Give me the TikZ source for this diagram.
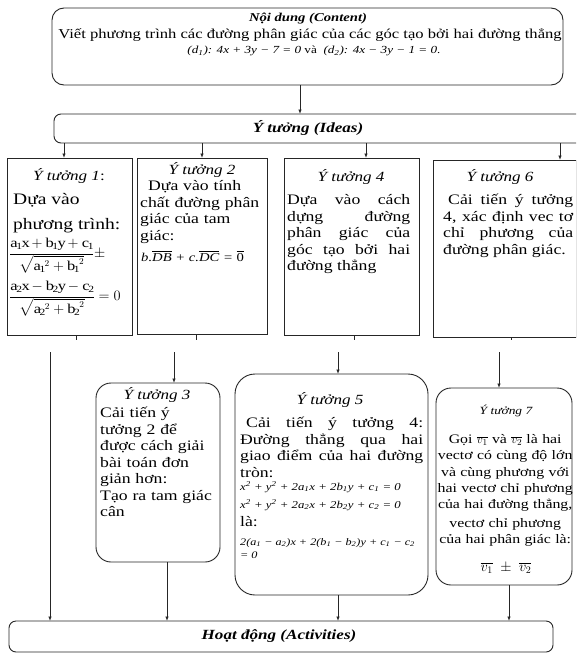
\documentclass[tikz,border=0pt]{standalone}
\usepackage{amsmath}
\usepackage{fontspec}
\setmainfont{Liberation Serif}[FakeStretch=1.22]
\usetikzlibrary{arrows.meta,calc}
\begin{document}
\begin{tikzpicture}[x=1pt,y=-1pt,
  box/.style={draw=black!85, line width=0.9pt, inner sep=0pt, outer sep=0pt, anchor=north west, fill=white},
  rbox/.style={box, rounded corners=#1},
  conn/.style={draw=black!85, line width=0.8pt, -{Latex[length=4.5pt,width=3.5pt]}},
  plain/.style={draw=black!85, line width=0.8pt},
  ttl/.style={inner sep=0pt, font=\fontsize{14}{16}\selectfont\itshape},
  head/.style={inner sep=0pt, font=\fontsize{14}{16}\selectfont\bfseries\itshape},
  para/.style={inner sep=0pt, anchor=north west, text width=#1, font=\fontsize{14.5}{16.5}\selectfont},
  oneline/.style={inner sep=0pt, anchor=west},
]
\clip (0,0) rectangle (576,653);
\fill[white] (0,0) rectangle (576,653);

% ---------- boxes ----------
\node[rbox=12pt, minimum width=511pt, minimum height=77pt] (content) at (52,8) {};
\node[rbox=7pt, minimum width=560pt, minimum height=29pt] (ideas) at (54,114) {};
\node[box, minimum width=125pt, minimum height=177pt] (i1) at (7,158) {};
\node[box, minimum width=130pt, minimum height=176pt] (i2) at (137,158) {};
\node[box, minimum width=135pt, minimum height=177pt] (i4) at (284,158) {};
\node[box, minimum width=143pt, minimum height=177pt] (i6) at (433,160) {};
\node[rbox=15pt, minimum width=124pt, minimum height=179pt] (i3) at (96,383) {};
\node[rbox=20pt, minimum width=193pt, minimum height=221pt] (i5) at (235,374) {};
\node[rbox=15pt, minimum width=136pt, minimum height=197pt] (i7) at (436,388) {};
\node[rbox=7pt, minimum width=544pt, minimum height=31pt] (act) at (9,621) {};

% ---------- header texts ----------
\node[inner sep=0pt, font=\fontsize{12}{13}\selectfont\bfseries\itshape] (ct1) at (308,19) {Nội dung (Content)};
\node[inner sep=0pt, font=\fontsize{13.6}{15}\selectfont] (ct2) at (310,35) {Viết phương trình các đường phân giác của các góc tạo bởi hai đường thẳng};
\node[inner sep=0pt, font=\fontsize{10.8}{13}\selectfont\itshape] (ct3) at (314,51) {(\textit{d}\textsubscript{1}): 4\textit{x} + 3\textit{y} − 7 = 0 \textup{và} \ (\textit{d}\textsubscript{2}): 4\textit{x} − 3\textit{y} − 1 = 0.};
\node[head] (ideastxt) at (308,128) {Ý tưởng (Ideas)};
\node[head] (acttxt) at (279,636) {Hoạt động (Activities)};

% ---------- idea 1 ----------
\node[ttl] (t1) at (69,176) {Ý tưởng 1\upshape:};
\node[oneline, font=\fontsize{16}{18}\selectfont] (i1a) at (13,200) {Dựa vào};
\node[oneline, font=\fontsize{16}{18}\selectfont] (i1b) at (13,226) {phương trình:};
\node[oneline, font=\fontsize{13.5}{15}\selectfont] (f1) at (9,256) {$\dfrac{\mathrm{a_1x+b_1y+c_1}}{\sqrt{\mathrm{a_1}^{2}+\mathrm{b_1}^{2}}}\pm$};
\node[oneline, font=\fontsize{13.5}{15}\selectfont] (f2) at (9,299) {$\dfrac{\mathrm{a_2x - b_2y - c_2}}{\sqrt{\mathrm{a_2}^{2}+\mathrm{b_2}^{2}}}=0$};

% ---------- idea 2 ----------
\node[ttl] (t2) at (202,170) {Ý tưởng 2};
\node[para=124pt, align=left] (p2) at (140,179) {\strut\hspace*{8pt}Dựa vào tính\\chất đường phân\\giác của tam\\giác:};
\node[oneline, font=\fontsize{12}{14}\selectfont\itshape] (f3) at (141,256) {b.$\overline{\hbox{DB}}$ + c.$\overline{\hbox{DC}}$ = $\overline{\hbox{\upshape 0}}$};

% ---------- idea 4 ----------
\node[ttl] (t4) at (351,177) {Ý tưởng 4};
\node[para=123pt, align=justify] (p4) at (287,193) {\strut Dựa vào cách\linebreak dựng đường\linebreak phân giác của\linebreak góc tạo bởi hai\linebreak đường thẳng};

% ---------- idea 6 ----------
\node[ttl] (t6) at (500,177) {Ý tưởng 6};
\node[para=130pt, align=justify] (p6) at (443,193) {\strut\hspace*{5pt}Cải tiến ý tưởng\linebreak 4, xác định vec tơ\linebreak chỉ phương của\linebreak đường phân giác.};

% ---------- idea 3 ----------
\node[ttl] (t3) at (157,395) {Ý tưởng 3};
\node[para=120pt, align=left] (p3) at (100,406) {\strut Cải tiến ý\\tưởng 2 để\\được cách giải\\bài toán đơn\\giản hơn:\\Tạo ra tam giác\\cân};

% ---------- idea 5 ----------
\node[ttl] (t5) at (330,400) {Ý tưởng 5};
\node[para=183pt, align=justify] (p5) at (240,416) {\strut\hspace*{6pt}Cải tiến ý tưởng 4:\linebreak Đường thẳng qua hai\linebreak giao điểm của hai đường\linebreak tròn:};
\node[oneline, font=\fontsize{10.5}{12}\selectfont\itshape] (f4) at (240,487) {x\textsuperscript{2} + y\textsuperscript{2} + 2a\textsubscript{1}x + 2b\textsubscript{1}y + c\textsubscript{1} = 0};
\node[oneline, font=\fontsize{10.5}{12}\selectfont\itshape] (f5) at (240,505) {x\textsuperscript{2} + y\textsuperscript{2} + 2a\textsubscript{2}x + 2b\textsubscript{2}y + c\textsubscript{2} = 0};
\node[oneline, font=\fontsize{14.5}{16}\selectfont] (la) at (240,522) {là:};
\node[oneline, font=\fontsize{10}{12}\selectfont\itshape] (f6) at (240,543) {2(a\textsubscript{1} − a\textsubscript{2})x + 2(b\textsubscript{1} − b\textsubscript{2})y + c\textsubscript{1} − c\textsubscript{2}};
\node[oneline, font=\fontsize{10}{12}\selectfont\itshape] (f7) at (240,555) {= 0};

% ---------- idea 7 ----------
\node[inner sep=0pt, font=\fontsize{11}{13}\selectfont\itshape] (t7) at (506,411) {Ý tưởng 7};
\node[para=136pt, align=center, font=\fontsize{13}{16.3}\selectfont] (p7a) at (437,432) {\strut Gọi $\overline{v_1}$ và $\overline{v_2}$ là hai\\vectơ có cùng độ lớn\\và cùng phương với\\hai vectơ chỉ phương\\của hai đường thẳng,};
\node[para=136pt, align=center, font=\fontsize{13}{16.3}\selectfont] (p7b) at (437,515.5) {\strut vectơ chỉ phương\\của hai phân giác là:};
\node[inner sep=0pt, font=\fontsize{14}{16}\selectfont] (f8) at (506,568) {$\overline{v_1}\ \pm\ \overline{v_2}$};

% ---------- connector x positions ----------
\coordinate (xa) at (300,0);
\coordinate (x1) at (64,0);
\coordinate (x2) at (202,0);
\coordinate (x4) at (366,0);
\coordinate (x6) at (560,0);
\coordinate (k1) at (76,340);
\coordinate (k2) at (196,340);
\coordinate (k4) at (354,340);
\coordinate (k6) at (511,340);
\coordinate (s1) at (50,352);
\coordinate (s2) at (174,352);
\coordinate (s3) at (338,352);
\coordinate (s4) at (499,352);
\coordinate (b3) at (167,0);
\coordinate (b5) at (338,0);
\coordinate (b7) at (509,0);

% ---------- connectors ----------
\draw[conn] (content.south -| xa) -- (ideas.north -| xa);
\draw[conn] (ideas.south -| x1) -- (i1.north -| x1);
\draw[conn] (ideas.south -| x2) -- (i2.north -| x2);
\draw[conn] (ideas.south -| x4) -- (i4.north -| x4);
\draw[conn] (ideas.south -| x6) -- (i6.north -| x6);
\draw[plain] (i1.south -| k1) -- (k1);
\draw[plain] (i2.south -| k2) -- (k2);
\draw[plain] (i4.south -| k4) -- (k4);
\draw[plain] (i6.south -| k6) -- (k6);
\draw[conn] (s1) -- (act.north -| s1);
\draw[conn] (s2) -- (i3.north -| s2);
\draw[conn] (s3) -- (i5.north -| s3);
\draw[conn] (s4) -- (i7.north -| s4);
\draw[conn] (i3.south -| b3) -- (act.north -| b3);
\draw[conn] (i5.south -| b5) -- (act.north -| b5);
\draw[conn] (i7.south -| b7) -- (act.north -| b7);
\end{tikzpicture}
\end{document}
